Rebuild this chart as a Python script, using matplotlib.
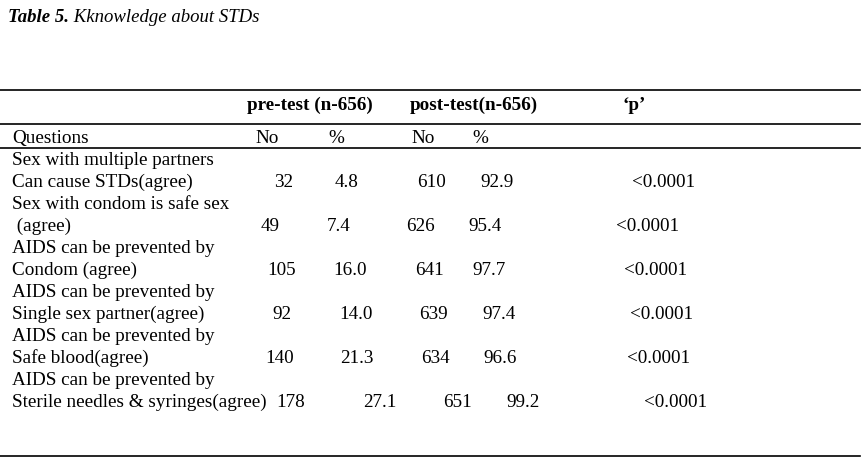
import matplotlib.pyplot as plt

# table content
title_bold = "Table 5."
title_rest = " Kknowledge about STDs"
header_groups = ["pre-test (n-656)", "post-test(n-656)", "\u2018p\u2019"]
sub_headers = ["Questions", "No", "%", "No", "%"]

question_top = ["Sex with multiple partners", "Sex with condom is safe sex",
                "AIDS can be prevented by", "AIDS can be prevented by",
                "AIDS can be prevented by", "AIDS can be prevented by"]
question_bottom = ["Can cause STDs(agree)", " (agree)", "Condom (agree)",
                   "Single sex partner(agree)", "Safe blood(agree)",
                   "Sterile needles & syringes(agree)"]
pre_no = ["32", "49", "105", "92", "140", "178"]
pre_pct = ["4.8", "7.4", "16.0", "14.0", "21.3", "27.1"]
post_no = ["610", "626", "641", "639", "634", "651"]
post_pct = ["92.9", "95.4", "97.7", "97.4", "96.6", "99.2"]
p_vals = ["<0.0001"] * 6

# layout (pixels) - the source table is not aligned, so each row has its own offsets
col_x = [[274, 335, 417, 480, 632],
         [261, 327, 406, 468, 616],
         [267, 333, 415, 472, 624],
         [272, 339, 419, 482, 630],
         [265, 340, 421, 483, 627],
         [276, 363, 443, 506, 644]]
header_x = [247, 410, 622]
sub_x = [12, 255, 328, 411, 472]
row_start, row_step = 160, 22
base = 5  # baseline offset from visual centre

plt.rcParams['font.family'] = ['Liberation Serif', 'DejaVu Serif']
fs = 13.8

fig = plt.figure(figsize=(8.68, 4.62), dpi=100)
ax = fig.add_axes([0, 0, 1, 1])
ax.set_xlim(0, 868)
ax.set_ylim(462, 0)
ax.axis('off')

t = ax.text(8, 17 + base, title_bold, fontsize=13.5, fontweight='bold', style='italic', va='baseline')
fig.canvas.draw()
bb = t.get_window_extent().transformed(ax.transData.inverted())
ax.text(bb.x1, 17 + base, title_rest, fontsize=13.5, style='italic', va='baseline')

for y in [90, 124, 148, 456]:
    ax.plot([0, 860], [y, y], color='black', lw=1.2)

for x, s in zip(header_x, header_groups):
    ax.text(x, 105 + base, s, fontsize=fs, fontweight='bold', va='baseline')
for x, s in zip(sub_x, sub_headers):
    ax.text(x, 138 + base, s, fontsize=fs, va='baseline')

for i in range(len(question_top)):
    y1 = row_start + i * 2 * row_step
    y2 = y1 + row_step
    ax.text(12, y1 + base, question_top[i], fontsize=fs, va='baseline')
    ax.text(12, y2 + base, question_bottom[i], fontsize=fs, va='baseline')
    vals = [pre_no[i], pre_pct[i], post_no[i], post_pct[i], p_vals[i]]
    for x, v in zip(col_x[i], vals):
        ax.text(x, y2 + base, v, fontsize=fs, va='baseline')

fig.savefig("out.png", dpi=100, facecolor='white')
